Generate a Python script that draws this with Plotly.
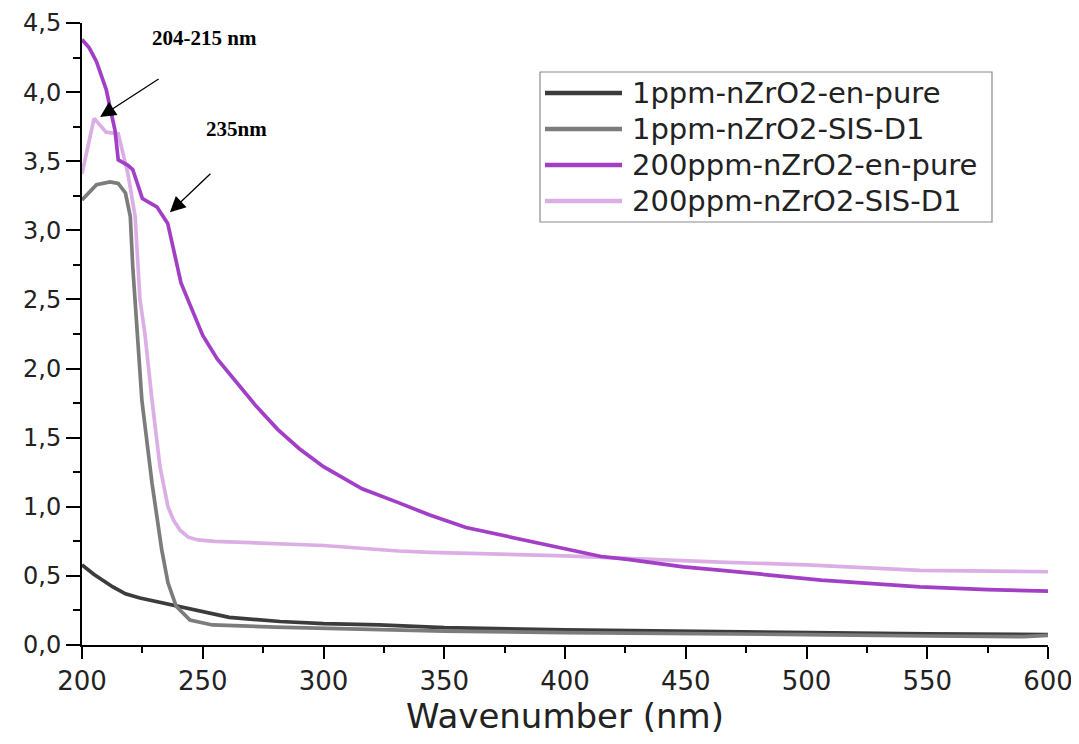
import plotly.graph_objects as go

# ---------------- data ----------------
names = ["1ppm-nZrO2-en-pure", "1ppm-nZrO2-SIS-D1",
         "200ppm-nZrO2-en-pure", "200ppm-nZrO2-SIS-D1"]
colors = ["#3c3c3c", "#7c7c7c", "#a23fc6", "#dcaee6"]

x_p1_pure = [200, 205, 212.8, 218, 224, 232, 239, 250, 261, 282, 300, 323, 350,
             400, 450, 500, 550, 600]
y_p1_pure = [0.58, 0.51, 0.42, 0.37, 0.34, 0.31, 0.28, 0.24, 0.20, 0.17, 0.155,
             0.145, 0.125, 0.11, 0.10, 0.085, 0.08, 0.075]

x_p1_sis = [200, 206, 211.6, 215, 218, 220, 221, 222.7, 224.8, 229, 233, 235.6,
            239, 244.7, 254, 280, 300, 350, 400, 450, 500, 550, 590, 600]
y_p1_sis = [3.22, 3.33, 3.35, 3.34, 3.27, 3.10, 2.74, 2.28, 1.77, 1.17, 0.69, 0.45,
            0.28, 0.18, 0.145, 0.13, 0.12, 0.10, 0.09, 0.085, 0.075, 0.065, 0.06, 0.07]

x_p200_pure = [200, 203, 206, 210, 213.7, 215, 219, 221, 225, 231, 235.5, 241, 245,
               250, 256, 264, 272, 281, 290, 300, 316, 331, 344, 359, 375, 387,
               400, 415, 426, 449, 465, 477, 506, 547, 575, 600]
y_p200_pure = [4.38, 4.32, 4.22, 4.02, 3.72, 3.51, 3.47, 3.44, 3.23, 3.17, 3.05,
               2.62, 2.45, 2.24, 2.07, 1.90, 1.73, 1.56, 1.42, 1.29, 1.13, 1.03,
               0.94, 0.85, 0.79, 0.74, 0.69, 0.64, 0.62, 0.565, 0.54, 0.52, 0.47,
               0.42, 0.40, 0.39]

x_p200_sis = [200, 205, 210, 215, 219, 222, 224, 226, 229, 232.3, 235.6, 238,
              240.6, 244, 248, 255, 270, 300, 331, 344, 400, 425, 464, 500, 547, 600]
y_p200_sis = [3.41, 3.81, 3.71, 3.70, 3.41, 3.10, 2.50, 2.26, 1.77, 1.29, 1.00, 0.90,
              0.83, 0.78, 0.76, 0.75, 0.74, 0.72, 0.68, 0.67, 0.645, 0.625, 0.60,
              0.58, 0.54, 0.53]

xs = [x_p1_pure, x_p1_sis, x_p200_pure, x_p200_sis]
ys = [y_p1_pure, y_p1_sis, y_p200_pure, y_p200_sis]

x_ticks = [200, 250, 300, 350, 400, 450, 500, 550, 600]
y_ticks = [0, 0.5, 1.0, 1.5, 2.0, 2.5, 3.0, 3.5, 4.0, 4.5]

# annotation texts / arrow heads (data coords)
ann_texts = ["204-215 nm", "235nm"]
ann_heads = [(207.5, 3.82), (236.4, 3.13)]
ann_text_pos = [(250.9, 4.39), (263.8, 3.73)]

# ---------------- figure ----------------
fig = go.Figure()
draw_order = [3, 2, 0, 1]
for i in draw_order:
    fig.add_trace(go.Scatter(x=xs[i], y=ys[i], mode="lines", name=names[i],
                             line=dict(color=colors[i], width=3.7),
                             showlegend=False))

# the page body adds an 8px offset; compensate so the plot area lands at
# screen pixels x 82..1048, y 23..645
OFF = 8
W, H = 1079, 744
L, R, T, B = 82 - OFF, 39, 23 - OFF, 107
pw, ph = W - L - R, H - T - B


def px(xs_screen):
    return (xs_screen - OFF - L) / pw


def py(ys_screen):
    return (H - B - (ys_screen - OFF)) / ph


axis_font = "DejaVu Sans, Arial, sans-serif"

fig.update_layout(
    template="none",
    width=W, height=H,
    margin=dict(l=L, r=R, t=T, b=B, autoexpand=False),
    paper_bgcolor="white", plot_bgcolor="white",
    separators=",.",
    font=dict(family=axis_font, color="#222"),
    xaxis=dict(range=[x_ticks[0], x_ticks[-1]], tickmode="linear", tick0=x_ticks[0],
               dtick=x_ticks[1] - x_ticks[0], ticks="outside", ticklen=12,
               tickwidth=2, tickcolor="black", showline=True, linewidth=2,
               linecolor="black", showgrid=False, zeroline=False, automargin=False,
               tickfont=dict(size=26, family=axis_font, color="#222"),
               minor=dict(dtick=(x_ticks[1] - x_ticks[0]) / 2, ticks="outside",
                          ticklen=6, tickwidth=2, tickcolor="black", showgrid=False),
               title=dict(text="Wavenumber (nm)", font=dict(size=34, family=axis_font,
                                                             color="#222"),
                          standoff=8)),
    yaxis=dict(range=[y_ticks[0], y_ticks[-1]], tickmode="linear", tick0=y_ticks[0],
               dtick=y_ticks[1] - y_ticks[0], tickformat=".1f", ticks="outside",
               ticklen=14, tickwidth=2, tickcolor="black", showline=True,
               linewidth=2, linecolor="black", showgrid=False, zeroline=False,
               automargin=False,
               tickfont=dict(size=24, family=axis_font, color="#222"),
               minor=dict(dtick=(y_ticks[1] - y_ticks[0]) / 2, ticks="outside",
                          ticklen=7, tickwidth=2, tickcolor="black", showgrid=False)),
)

# manual legend (long line samples like the reference)
leg_left, leg_right, leg_top, leg_bot = 540, 992, 72, 222
fig.add_shape(type="rect", xref="paper", yref="paper",
              x0=px(leg_left), x1=px(leg_right), y0=py(leg_bot), y1=py(leg_top),
              line=dict(color="#8a8a8a", width=1.2), fillcolor="white", layer="above")
row_y = [93, 129, 165, 201]
for i in range(4):
    fig.add_shape(type="line", xref="paper", yref="paper",
                  x0=px(545), x1=px(622), y0=py(row_y[i]), y1=py(row_y[i]),
                  line=dict(color=colors[i], width=4.5), layer="above")
    fig.add_annotation(xref="paper", yref="paper", x=px(630), y=py(row_y[i]),
                       text=names[i], showarrow=False, xanchor="left",
                       yanchor="middle",
                       font=dict(size=29, family=axis_font, color="#222"))

# arrows and labels
for (hx, hy), (dx, dy) in zip(ann_heads, [(60, -39), (42, -40)]):
    fig.add_annotation(x=hx, y=hy, ax=dx, ay=dy, text="", showarrow=True,
                       arrowhead=2, arrowsize=2.4, arrowwidth=1.3,
                       arrowcolor="black")
for t, (tx, ty) in zip(ann_texts, ann_text_pos):
    fig.add_annotation(x=tx, y=ty, text="<b>" + t + "</b>", showarrow=False,
                       font=dict(size=21, family="Liberation Serif, Times New Roman, serif",
                                 color="black"))

fig.write_html("out.html")
